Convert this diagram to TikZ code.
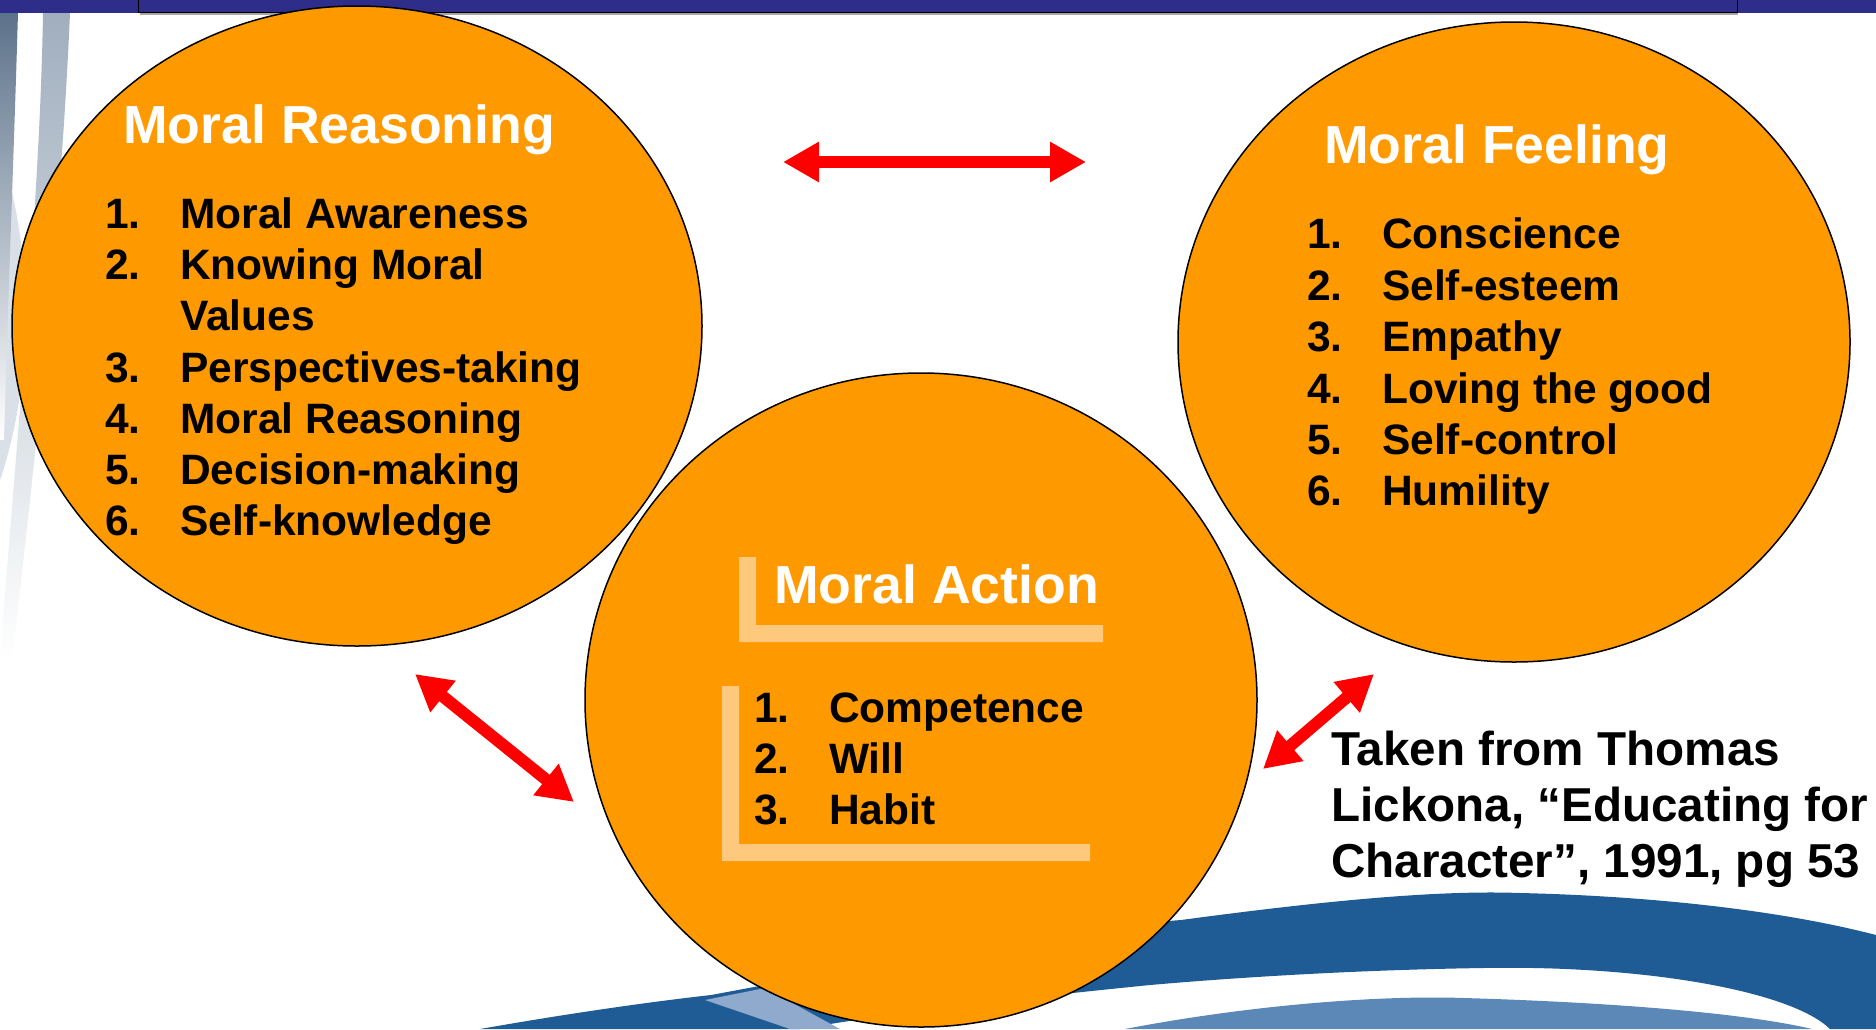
\documentclass[tikz,border=0pt]{standalone}
\usepackage{fontspec}
\setmainfont{Liberation Sans}
\usetikzlibrary{arrows.meta,shapes.geometric}

\definecolor{bubblefill}{RGB}{255,153,0}
\definecolor{barnavy}{RGB}{46,46,138}
\definecolor{bracketlight}{RGB}{255,201,125}
\definecolor{swooshdark}{RGB}{31,92,150}
\definecolor{swooshmid}{RGB}{92,136,184}
\definecolor{swooshpale}{RGB}{143,170,204}
\definecolor{stripeslate}{RGB}{92,114,138}
\definecolor{stripegray}{RGB}{160,174,190}
\definecolor{stripepale}{RGB}{218,224,231}

\newcommand\lnitem[2]{\makebox[75pt][l]{#1.}#2}

\begin{document}
\begin{tikzpicture}[x=1pt,y=-1pt,join=round,
    bubble/.style={ellipse,draw=black,line width=1.5pt,fill=bubblefill,inner sep=0pt,outer sep=0pt},
    twoway/.style={draw=red,line width=12pt,>={Triangle[length=36pt,width=38pt]},<->},
    heading/.style={anchor=base west,inner sep=0pt,text=white,font=\fontsize{53.6}{60}\selectfont\bfseries},
    entry/.style={anchor=base west,inner sep=0pt,font=\fontsize{42.5}{51}\selectfont\bfseries},
    source/.style={anchor=base west,inner sep=0pt,font=\fontsize{47.6}{56}\selectfont\bfseries}]
        \fill[white] (0,0) rectangle (1876,1029);
        \useasboundingbox (0,0) rectangle (1876,1029);
        % slide background
        \fill[stripepale] (0,150) .. controls (34,250) and (34,380) .. (0,480) -- cycle;
        \shade[top color=stripeslate,bottom color=white] (0,13) -- (18,13) .. controls (14,150) and (8,300) .. (4,440) -- (0,440) -- cycle;
        \shade[top color=stripegray,bottom color=white] (43,13) -- (70,13) .. controls (62,200) and (40,420) .. (12,660) -- (0,660) .. controls (18,420) and (40,200) .. (43,13) -- cycle;
        \fill[swooshdark] (480,1029) .. controls (560,1015) and (640,1003) .. (711,995) .. controls (900,960) and (1050,930) .. (1181,920) .. controls (1330,900) and (1440,890) .. (1520,893) .. controls (1650,896) and (1780,910) .. (1876,935) -- (1876,1029) -- (1830,1029) .. controls (1790,990) and (1640,965) .. (1483,968) .. controls (1350,970) and (1230,978) .. (1150,985) .. controls (1000,1000) and (880,1015) .. (800,1029) -- cycle;
        \fill[swooshmid] (1125,1029) .. controls (1250,1005) and (1380,995) .. (1464,998) .. controls (1600,1002) and (1740,1012) .. (1812,1029) -- cycle;
        \fill[swooshpale] (705,1000) -- (765,988) -- (840,1029) -- (790,1029) -- cycle;
        \fill[barnavy] (0,0) rectangle (1876,12.7);
        \draw[gray!70,line width=1.5pt] (140,13.8) -- (1738,13.8);
        \filldraw[fill=barnavy,draw=black,line width=1pt] (138,-2) rectangle (1737,12);
        % the three bubbles
        \node[bubble,minimum width=690pt,minimum height=640pt] (reason) at (357,326) {};
        \node[bubble,minimum width=672pt,minimum height=640pt] (feel) at (1514,342) {};
        \node[bubble,minimum width=672pt,minimum height=654pt] (act) at (921,700) {};
        \fill[bracketlight] (739,557) -- (756,557) -- (756,625) -- (1103,625) -- (1103,642) -- (739,642) -- cycle;
        \fill[bracketlight] (722,686) -- (739,686) -- (739,844) -- (1090,844) -- (1090,861) -- (722,861) -- cycle;
        % texts
        \path
                (123,143) node[heading] (reasonhead) {Moral Reasoning}
                (105,228) node[entry] (reason1) {\lnitem{1}{Moral Awareness}}
                (105,279) node[entry] (reason2) {\lnitem{2}{Knowing Moral}}
                (180,330) node[entry] (reason2b) {Values}
                (105,382) node[entry] (reason3) {\lnitem{3}{Perspectives-taking}}
                (105,433) node[entry] (reason4) {\lnitem{4}{Moral Reasoning}}
                (105,484) node[entry] (reason5) {\lnitem{5}{Decision-making}}
                (105,535) node[entry] (reason6) {\lnitem{6}{Self-knowledge}};
        \path
                (1324,163) node[heading] (feelhead) {Moral Feeling}
                (1307,248) node[entry] (feel1) {\lnitem{1}{Conscience}}
                (1307,300) node[entry] (feel2) {\lnitem{2}{Self-esteem}}
                (1307,351) node[entry] (feel3) {\lnitem{3}{Empathy}}
                (1307,403) node[entry] (feel4) {\lnitem{4}{Loving the good}}
                (1307,454) node[entry] (feel5) {\lnitem{5}{Self-control}}
                (1307,505) node[entry] (feel6) {\lnitem{6}{Humility}};
        \path
                (774,603) node[heading] (acthead) {Moral Action}
                (754,722) node[entry] (act1) {\lnitem{1}{Competence}}
                (754,773) node[entry] (act2) {\lnitem{2}{Will}}
                (754,824) node[entry] (act3) {\lnitem{3}{Habit}};
        \path
                (1331,765) node[source] (cite1) {Taken from Thomas}
                (1331,821) node[source] (cite2) {Lickona, “Educating for}
                (1331,877) node[source] (cite3) {Character”, 1991, pg 53};
        % arrows between the bubbles
        \coordinate (topL) at (783,162);
        \coordinate (topR) at (1086,162);
        \coordinate (lowL) at (415,674);
        \coordinate (lowR) at (574,802);
        \coordinate (sideA) at (1374,674);
        \coordinate (sideB) at (1263,769);
        \draw[twoway] (topL) -- (topR);
        \draw[twoway] (lowL) -- (lowR);
        \draw[twoway] (sideA) -- (sideB);
\end{tikzpicture}
\end{document}
